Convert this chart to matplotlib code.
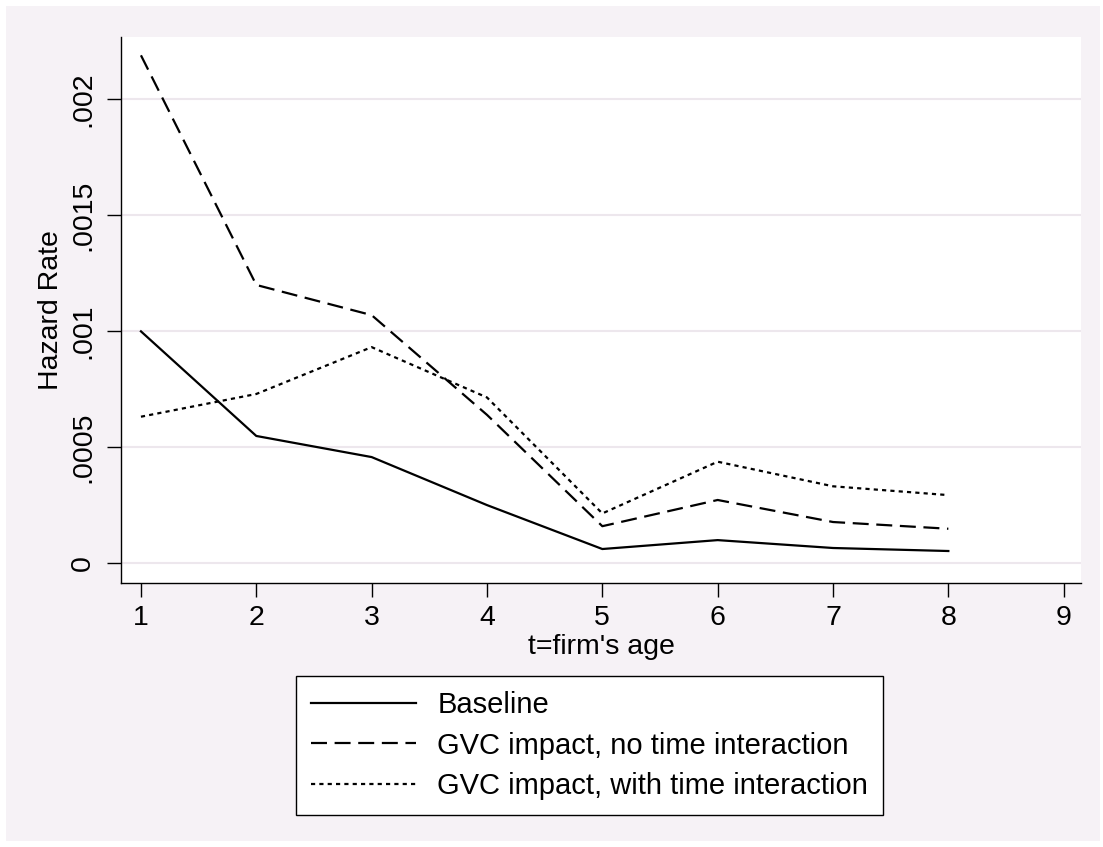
import matplotlib
matplotlib.use("Agg")
import matplotlib.pyplot as plt
from matplotlib.patches import Rectangle
from matplotlib.ticker import FixedLocator, FixedFormatter

plt.rcParams['font.family'] = ['Liberation Sans', 'DejaVu Sans']
plt.rcParams['lines.scale_dashes'] = False

ages = [1, 2, 3, 4, 5, 6, 7, 8]
baseline = [0.00100, 0.000549, 0.000458, 0.000251, 0.0000616, 0.000100, 0.000066, 0.000053]
gvc_no_time = [0.00219, 0.00120, 0.00107, 0.00064, 0.000160, 0.000273, 0.000178, 0.000149]
gvc_with_time = [0.000632, 0.000730, 0.000932, 0.000715, 0.000215, 0.000438, 0.000332, 0.000294]

series_labels = ["Baseline", "GVC impact, no time interaction", "GVC impact, with time interaction"]
yticks = [0, 0.0005, 0.001, 0.0015, 0.002]
ytick_labels = ["0", ".0005", ".001", ".0015", ".002"]
xticks = [1, 2, 3, 4, 5, 6, 7, 8, 9]

W, H = 1103, 847
fig = plt.figure(figsize=(W / 100, H / 100), dpi=100, facecolor='white')
bg = '#F6F2F6'
fig.patches.append(Rectangle((6 / W, 6 / H), (W - 9) / W, (H - 12) / H,
                             transform=fig.transFigure, facecolor=bg, edgecolor='none', zorder=-10))

ax = fig.add_axes([121 / W, (H - 583) / H, (1081 - 121) / W, (583 - 37) / H])
ax.set_facecolor('white')

ax.plot(ages, baseline, color='black', lw=1.6, linestyle='-', label=series_labels[0])
ax.plot(ages, gvc_no_time, color='black', lw=1.6, linestyle=(0, (11.5, 5.5)), label=series_labels[1])
ax.plot(ages, gvc_with_time, color='black', lw=1.6, linestyle=(0, (3, 3)), label=series_labels[2])

ax.set_xlim(0.827, 9.15)
ax.set_ylim(-0.0000849, 0.002269)

ax.yaxis.set_major_locator(FixedLocator(yticks))
ax.yaxis.set_major_formatter(FixedFormatter(ytick_labels))
ax.set_xticks(xticks)
ax.set_xticklabels([str(x) for x in xticks])

for lab in ax.get_yticklabels():
    lab.set_rotation(90)
    lab.set_va('center')

ax.tick_params(axis='both', direction='out', length=10, width=1, colors='black', labelsize=20.5)
ax.tick_params(axis='x', pad=6)
ax.tick_params(axis='y', pad=8)

ax.grid(axis='y', color='#EDE7ED', lw=1.5)
ax.set_axisbelow(True)

for s in ['top', 'right']:
    ax.spines[s].set_visible(False)
for s in ['left', 'bottom']:
    ax.spines[s].set_linewidth(1)
    ax.spines[s].set_color('black')

ax.set_xlabel("t=firm's age", fontsize=20.5, labelpad=2)
ax.set_ylabel("Hazard Rate", fontsize=20.5, labelpad=4)

leg = fig.legend(loc='center', bbox_to_anchor=(589.5 / W, (H - 745.5) / H), ncol=1,
                 fontsize=21, frameon=True, fancybox=False, edgecolor='black', framealpha=1,
                 handlelength=3.6, handletextpad=0.75, labelspacing=0.43, borderpad=0.5)
leg.get_frame().set_linewidth(1)
leg.get_frame().set_facecolor('white')

fig.savefig('out.png', dpi=100, facecolor='white')
